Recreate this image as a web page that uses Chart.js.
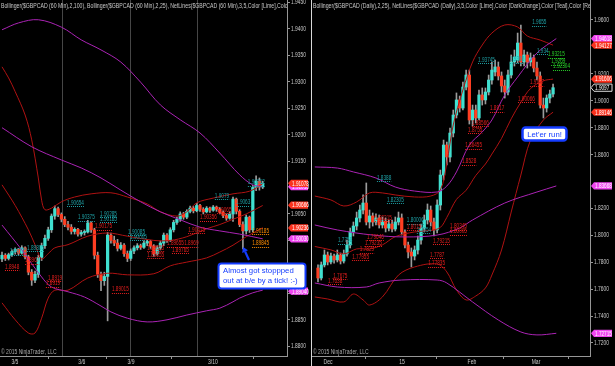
<!DOCTYPE html>
<html>
<head>
<meta charset="utf-8">
<script src="https://cdn.jsdelivr.net/npm/chart.js@4.4.1/dist/chart.umd.min.js"></script>
<style>
  html, body { margin: 0; padding: 0; background: #000; }
  #wrap { position: relative; width: 615px; height: 366px; background: #000; overflow: hidden; }
  #left { position: absolute; left: 0; top: 0; }
  #right { position: absolute; left: 310px; top: 0; }
</style>
</head>
<body>
<div id="wrap">
  <canvas id="left" width="310" height="366"></canvas>
  <canvas id="right" width="305" height="366"></canvas>
</div>
<script>
// ---------- left panel: $GBPCAD 60 min (candle index = hour bar) ----------
const L_OPEN = [1.8965,1.8972,1.8966,1.8973,1.8979,1.8983,1.8976,1.8986,1.8969,1.8940,
  1.8925,1.8936,1.8968,1.8990,1.9004,1.9020,1.9046,1.9060,1.9049,1.9040,
  1.9030,1.9025,1.9017,1.9021,1.9012,1.9015,1.9016,1.9033,1.9020,1.8972,
  1.8936,1.8924,1.8932,1.9010,1.9000,1.8995,1.8985,1.8991,1.8975,1.8966,
  1.8980,1.8986,1.8990,1.8987,1.8995,1.8998,1.8989,1.8975,1.8986,1.8995,
  1.9010,1.9000,1.9020,1.9034,1.9040,1.9050,1.9044,1.9055,1.9061,1.9056,
  1.9066,1.9059,1.9054,1.9061,1.9057,1.9063,1.9059,1.9053,1.9047,1.9042,
  1.9050,1.9078,1.9055,1.9030,1.9018,1.9044,1.9020,1.9100,1.9112,1.9101];
const L_HIGH = [1.8978,1.8975,1.8976,1.8982,1.8986,1.8985,1.8990,1.8988,1.8972,1.8945,
  1.8942,1.8972,1.8995,1.9010,1.9025,1.9050,1.9065,1.9063,1.9052,1.9045,
  1.9036,1.9030,1.9024,1.9023,1.9019,1.9020,1.9038,1.9035,1.9023,1.8978,
  1.8940,1.8940,1.9015,1.9014,1.9008,1.9002,1.8996,1.8994,1.8980,1.8984,
  1.8990,1.8994,1.8993,1.8999,1.9002,1.9000,1.8992,1.8990,1.8999,1.9014,
  1.9013,1.9024,1.9038,1.9044,1.9054,1.9053,1.9058,1.9065,1.9064,1.9070,
  1.9068,1.9062,1.9064,1.9063,1.9066,1.9065,1.9062,1.9056,1.9050,1.9054,
  1.9082,1.9080,1.9058,1.9035,1.9048,1.9046,1.9104,1.9122,1.9118,1.9112];
const L_LOW = [1.8960,1.8962,1.8963,1.8970,1.8974,1.8972,1.8974,1.8965,1.8935,1.8915,
  1.8920,1.8930,1.8962,1.8985,1.9000,1.9015,1.9040,1.9045,1.9035,1.9026,
  1.9020,1.9012,1.9012,1.9008,1.9008,1.9010,1.9014,1.9015,1.8965,1.8930,
  1.8905,1.8915,1.8848,1.8995,1.8990,1.8980,1.8982,1.8970,1.8960,1.8962,
  1.8975,1.8982,1.8983,1.8985,1.8990,1.8985,1.8970,1.8972,1.8982,1.8990,
  1.8996,1.8998,1.9016,1.9030,1.9036,1.9040,1.9041,1.9052,1.9052,1.9054,
  1.9055,1.9050,1.9052,1.9053,1.9055,1.9055,1.9050,1.9043,1.9038,1.9040,
  1.9036,1.9050,1.9026,1.8984,1.9012,1.9015,1.9016,1.9094,1.9095,1.9098];
const L_CLOSE = [1.8972,1.8966,1.8973,1.8979,1.8983,1.8976,1.8986,1.8969,1.8940,1.8925,
  1.8936,1.8968,1.8990,1.9004,1.9020,1.9046,1.9060,1.9049,1.9040,1.9030,
  1.9025,1.9017,1.9021,1.9012,1.9015,1.9016,1.9033,1.9020,1.8972,1.8936,
  1.8924,1.8932,1.9010,1.9000,1.8995,1.8985,1.8991,1.8975,1.8966,1.8980,
  1.8986,1.8990,1.8987,1.8995,1.8998,1.8989,1.8975,1.8986,1.8995,1.9010,
  1.9000,1.9020,1.9034,1.9040,1.9050,1.9044,1.9055,1.9061,1.9056,1.9066,
  1.9059,1.9054,1.9061,1.9057,1.9063,1.9059,1.9053,1.9047,1.9042,1.9050,
  1.9078,1.9055,1.9030,1.9018,1.9044,1.9020,1.9100,1.9112,1.9101,1.9108];

// Bollinger(2,100) - purple, Bollinger(2,25) - dark red ; [bar index, price]
const L_BB100_UP = [[0,1.9398],[5,1.9411],[11,1.9417],[18,1.9403],[24,1.9379],[30,1.9360],[36,1.9337],
  [42,1.9299],[48,1.9256],[54,1.9228],[60,1.9203],[66,1.9165],[72,1.9124],[76,1.9105],[79,1.9102]];
const L_BB100_MID = [[0,1.9213],[9,1.9177],[18,1.9152],[24,1.9137],[30,1.9118],[36,1.9095],[42,1.9073],
  [48,1.9054],[54,1.9039],[60,1.9025],[66,1.9018],[72,1.9012],[79,1.9003]];
const L_BB100_LO = [[0,1.9029],[6,1.8982],[12,1.8931],[15,1.8912],[20,1.8903],[25,1.8893],[30,1.8876],
  [33,1.8865],[38,1.8853],[44,1.8846],[50,1.8850],[56,1.8859],[62,1.8867],[66,1.8872],[70,1.8884],
  [72,1.8891],[76,1.8901],[79,1.8906]];
const L_BB25_UP = [[0,1.9328],[2,1.9307],[4,1.9281],[7,1.9237],[9,1.9190],[11,1.9118],[12,1.9076],
  [13,1.9058],[15,1.9061],[18,1.9073],[22,1.9082],[27,1.9088],[33,1.9090],[38,1.9082],[44,1.9069],
  [48,1.9054],[53,1.9046],[56,1.9054],[59,1.9071],[64,1.9080],[70,1.9088],[75,1.9093],[79,1.9107]];
const L_BB25_MID = [[0,1.9105],[4,1.9066],[8,1.9020],[10,1.8992],[12,1.8965],[14,1.8975],[16,1.8986],
  [20,1.8992],[26,1.9008],[32,1.9014],[38,1.9008],[46,1.9000],[51,1.9000],[56,1.9007],[62,1.9022],
  [66,1.9030],[70,1.9040],[74,1.9050],[79,1.9066]];
const L_BB25_LO = [[0,1.8882],[4,1.8850],[8,1.8825],[10,1.8825],[12,1.8853],[14,1.8891],[16,1.8906],
  [20,1.8906],[26,1.8929],[32,1.8938],[38,1.8935],[46,1.8937],[51,1.8952],[56,1.8959],[62,1.8967],
  [66,1.8978],[70,1.8991],[74,1.9007],[79,1.9024]];

const L_YTICKS = [1.9450,1.9400,1.9350,1.9300,1.9250,1.9200,1.9150,1.9050,1.9000,1.8900,1.8850,1.8800];
const L_XTICK_POS = [3.9, 24.2, 39.1, 63.9];
const L_XTICK_LBL = ['3/5', '3/6', '3/9', '3/10'];
const L_SESSIONS = [18.2, 38.8, 59.1];
// NetLines labels: [text, colour, bar index, price]
const L_NOTES = [
  ['1.90654','t',19.7,1.9071],['1.90375','t',23,1.9044],['1.90285','t',29.7,1.9050],['1.90185','t',29.7,1.9041],
  ['1.90175','r',28.2,1.9026],['1.90085','t',38.2,1.9016],['1.90005','t',38.8,1.9007],['1.89775','t',2.4,1.8980],
  ['1.89805','t',7.6,1.8986],['1.8948','r',0.9,1.8950],['1.8967','r',7,1.8963],['1.8919','r',13.9,1.8929],
  ['1.8919','r',13.3,1.8919],['1.89015','r',33.3,1.8908],['1.9079','t',64.5,1.9084],['1.9063','t',70.9,1.9072],
  ['1.90356','r',60,1.9044],['1.9065','r',65.2,1.9058],['1.90415','r',56.4,1.9020],['1.89655','r',50,1.8995],
  ['1.8969','r',55.2,1.8995],['1.89765','r',51.5,1.8982],['1.89655','r',44,1.8986],['1.89655','r',44,1.8973],
  ['1.90185','o',75.8,1.9018],['1.89845','o',75.8,1.8995],['1.90262','t',74.5,1.9110]];
const L_TAGS = [['1.89040','m'],['1.91016','m'],['1.91078','r'],['1.90666','r'],['1.90030','m'],['1.90236','r']];
const L_TITLE = 'Bollinger($GBPCAD (60 Min),2,100), Bollinger($GBPCAD (60 Min),2,25), NetLines($GBPCAD (60 Min),3,5,Color [Lime],Color [DarkOrange],Color [Teal],Color [Red])';

// ---------- right panel: $GBPCAD daily ----------
const R_OPEN = [1.7757,1.7683,1.7780,1.7854,1.7802,1.7846,1.7817,1.7854,1.7809,1.7861,
  1.7928,1.8025,1.8069,1.8129,1.8188,1.8240,1.8099,1.8144,1.8099,1.8129,
  1.8077,1.8106,1.8054,1.8084,1.8047,1.8099,1.8129,1.8025,1.7928,1.7876,
  1.7846,1.7891,1.7965,1.8054,1.8114,1.8188,1.8099,1.8040,1.8225,1.8448,
  1.8671,1.8582,1.8760,1.8894,1.9006,1.8946,1.9102,1.9191,1.8857,1.8931,
  1.8872,1.9043,1.9006,1.9065,1.9154,1.9214,1.9251,1.9184,1.9110,1.9065,
  1.9191,1.9288,1.9303,1.9429,1.9288,1.9340,1.9288,1.9318,1.9243,1.9184,
  1.8968,1.8946,1.9020,1.9050];
const R_HIGH = [1.7780,1.7802,1.7891,1.7876,1.7869,1.7861,1.7891,1.7869,1.7891,1.7965,
  1.8054,1.8099,1.8173,1.8225,1.8300,1.8389,1.8188,1.8166,1.8159,1.8151,
  1.8136,1.8129,1.8114,1.8114,1.8136,1.8173,1.8159,1.8040,1.7950,1.7906,
  1.7921,1.7995,1.8084,1.8151,1.8233,1.8218,1.8129,1.8263,1.8485,1.8708,
  1.8693,1.8797,1.8931,1.9058,1.9035,1.9139,1.9228,1.9228,1.8968,1.8968,
  1.9080,1.9095,1.9095,1.9191,1.9288,1.9303,1.9288,1.9214,1.9154,1.9228,
  1.9340,1.9377,1.9503,1.9563,1.9377,1.9362,1.9355,1.9340,1.9288,1.9214,
  1.9020,1.9043,1.9080,1.9124];
const R_LOW = [1.7653,1.7668,1.7765,1.7780,1.7787,1.7794,1.7802,1.7787,1.7794,1.7846,
  1.7906,1.7995,1.8040,1.8099,1.8159,1.8077,1.8054,1.8069,1.8077,1.8054,
  1.8054,1.8025,1.8032,1.8025,1.8032,1.8077,1.8002,1.7906,1.7832,1.7765,
  1.7817,1.7861,1.7935,1.8025,1.8084,1.8069,1.7995,1.8017,1.8188,1.8411,
  1.8523,1.8545,1.8731,1.8872,1.8916,1.8931,1.9080,1.8827,1.8812,1.8835,
  1.8857,1.8968,1.8976,1.9043,1.9124,1.9184,1.9154,1.9065,1.9020,1.9043,
  1.9169,1.9258,1.9281,1.9258,1.9258,1.9243,1.9258,1.9214,1.9154,1.8946,
  1.8872,1.8916,1.8983,1.9028];
const R_CLOSE = [1.7683,1.7780,1.7854,1.7802,1.7846,1.7817,1.7854,1.7809,1.7861,1.7928,
  1.8025,1.8069,1.8129,1.8188,1.8240,1.8099,1.8144,1.8099,1.8129,1.8077,
  1.8106,1.8054,1.8084,1.8047,1.8099,1.8129,1.8025,1.7928,1.7876,1.7846,
  1.7891,1.7965,1.8054,1.8114,1.8188,1.8099,1.8040,1.8225,1.8448,1.8671,
  1.8582,1.8760,1.8894,1.9006,1.8946,1.9102,1.9191,1.8857,1.8931,1.8872,
  1.9043,1.9006,1.9065,1.9154,1.9228,1.9251,1.9184,1.9110,1.9065,1.9191,
  1.9288,1.9325,1.9429,1.9288,1.9340,1.9288,1.9318,1.9243,1.9184,1.8968,
  1.8946,1.9020,1.9050,1.9097];

const R_BB25_UP = [[-1,1.8292],[4,1.8263],[8,1.8218],[12,1.8248],[16,1.8315],[20,1.8315],[24,1.8300],
  [30,1.8285],[35,1.8292],[38,1.8337],[40,1.8537],[42,1.8820],[45,1.9080],[48,1.9288],[51,1.9414],
  [54,1.9503],[58,1.9563],[62,1.9548],[65,1.9481],[69,1.9451],[73,1.9413]];
const R_BB25_MID = [[-1,1.7917],[4,1.7892],[8,1.7862],[12,1.7899],[16,1.7899],[20,1.7929],[24,1.7990],
  [30,1.8025],[35,1.8036],[38,1.8059],[40,1.8133],[43,1.8267],[46,1.8335],[49,1.8445],[52,1.8530],
  [54,1.8604],[57,1.8720],[60,1.8866],[63,1.8989],[66,1.9091],[70,1.9148],[73,1.9161]];
const R_BB25_LO = [[-1,1.7542],[3,1.7527],[8,1.7505],[11,1.7564],[14,1.7520],[16,1.7482],[20,1.7542],
  [25,1.7705],[30,1.7765],[37,1.7787],[40,1.7728],[43,1.7594],[46,1.7520],[49,1.7549],[52,1.7609],
  [54,1.7705],[57,1.7891],[60,1.8173],[63,1.8448],[66,1.8708],[70,1.8857],[73,1.8915]];
const R_BB100_UP = [[-1,1.8508],[6,1.8500],[11,1.8471],[18,1.8426],[24,1.8359],[30,1.8329],[37,1.8322],
  [40,1.8366],[43,1.8471],[47,1.8671],[51,1.8768],[54,1.8857],[58,1.9043],[62,1.9176],[68,1.9355],[74,1.9462]];
const R_BB100_MID = [[-1,1.8077],[6,1.8040],[17,1.8002],[27,1.7988],[37,1.8002],[44,1.8054],[48,1.8114],
  [58,1.8240],[68,1.8322],[74,1.8367]];
const R_BB100_LO = [[-1,1.7646],[6,1.7616],[15,1.7616],[19,1.7646],[26,1.7668],[37,1.7668],[40,1.7646],
  [48,1.7505],[56,1.7371],[63,1.7282],[68,1.7260],[74,1.7272]];

const R_YTICKS = [1.9600,1.9200,1.9000,1.8800,1.8600,1.8200,1.8000,1.7800,1.7600,1.7400,1.7200];
const R_XTICK_POS = [3.1, 26.1, 47.8, 67.7];
const R_XTICK_LBL = ['Dec', '15', 'Feb', 'Mar'];
const R_NOTES = [
  ['1.9655','t',66.5,1.9585],['1.93745','t',49.7,1.9303],['1.9365','t',59.6,1.9310],['1.934','t',68,1.9370],
  ['1.93215','g',71.4,1.9347],['1.9269','g',72.4,1.9295],['1.92304','g',73,1.9258],['1.9107','r',65.8,1.9139],
  ['1.90066','r',62.1,1.9013],['1.8917','r',53.4,1.8946],['1.88566','r',47.8,1.8836],['1.8755','r',46.6,1.8783],
  ['1.86455','r',45.7,1.8671],['1.8528','r',44.7,1.8552],['1.8388','t',18.3,1.8426],['1.82305','t',21.4,1.8263],
  ['1.80215','r',17.7,1.8129],['1.80006','t',27.6,1.8110],['1.8015','r',27.6,1.8062],['1.7954','t',30.7,1.8040],
  ['1.79646','r',15.2,1.7988],['1.79235','r',14.6,1.7943],['1.7829','r',13,1.7898],['1.7758','t',6.2,1.7965],
  ['1.7675','r',4.7,1.7698],['1.7638','r',3.1,1.7661],['1.7787','r',34.8,1.7854],['1.77835','r',34.2,1.7794],
  ['1.77955','r',10.6,1.7839],['1.79215','r',35.7,1.7958],['1.80345','r',41,1.8069],['1.80005','r',41,1.8032]];
const R_TAGS = [['1.94618','m'],['1.94127','r'],['1.91606','r'],['1.9097','k'],['1.89146','r'],['1.83668','m'],['1.72715','m']];
const R_TITLE = 'Bollinger($GBPCAD (Daily),2,25), NetLines($GBPCAD (Daily),3,5,Color [Lime],Color [DarkOrange],Color [Teal],Color [Red])';

// ---------- styling ----------
const TEAL = 'rgb(64,224,208)';
const RED = 'rgb(255,62,34)';
const WICK = 'rgb(155,155,155)';
const PURPLE = 'rgb(170,35,180)';
const DARKRED = 'rgb(175,18,18)';
const AXIS = 'rgb(150,150,150)';
const TXT = 'rgb(200,200,200)';
const BLUE = 'rgb(20,60,255)';
const NOTE_COL = { t: 'rgb(30,160,165)', r: 'rgb(230,30,30)', o: 'rgb(255,140,0)', g: 'rgb(40,210,40)' };
const FONT = '"Liberation Sans", Arial, sans-serif';

function txt(ctx, s, x, y, size, color, align, sx) {
  ctx.save();
  ctx.font = size + 'px ' + FONT;
  ctx.fillStyle = color;
  ctx.textBaseline = 'middle';
  ctx.textAlign = align || 'left';
  ctx.translate(x, y);
  ctx.scale(sx, 1);
  ctx.fillText(s, 0, 0);
  const w = ctx.measureText(s).width * sx;
  ctx.restore();
  return w;
}

function candles(O, H, L, C) {
  return [
    { type: 'bar', data: L.map((l, i) => ({ x: i, y: [l, H[i]] })), backgroundColor: WICK,
      barThickness: 1, grouped: false, order: 3 },
    { type: 'bar', data: O.map((o, i) => ({ x: i, y: [o, C[i]] })),
      backgroundColor: O.map((o, i) => C[i] >= o ? TEAL : RED),
      barThickness: 2.6, minBarLength: 1, grouped: false, order: 2 }
  ];
}
function band(pts, color) {
  return { type: 'line', data: pts.map(p => ({ x: p[0], y: p[1] })), borderColor: color,
    borderWidth: 1, pointRadius: 0, tension: 0.35, fill: false, order: 1 };
}

function tag(ctx, x0, x1, yc, s, kind) {
  const h = 3.6;
  ctx.beginPath();
  ctx.moveTo(x0, yc); ctx.lineTo(x0 + 3, yc - h); ctx.lineTo(x1, yc - h);
  ctx.lineTo(x1, yc + h); ctx.lineTo(x0 + 3, yc + h); ctx.closePath();
  ctx.fillStyle = kind === 'r' ? 'rgb(250,50,30)' : kind === 'm' ? 'rgb(240,70,240)' : '#000';
  ctx.fill();
  if (kind === 'k') { ctx.strokeStyle = '#ddd'; ctx.lineWidth = 1; ctx.stroke(); }
  txt(ctx, s, x0 + 4, yc + 0.5, 6.5, '#fff', 'left', 0.72);
}

function callout(ctx, x, y, w, h, lines, lw) {
  ctx.save();
  ctx.beginPath();
  ctx.roundRect(x, y, w, h, 3);
  ctx.fillStyle = '#fff'; ctx.fill();
  ctx.strokeStyle = BLUE; ctx.lineWidth = lw; ctx.stroke();
  ctx.restore();
  lines.forEach(l => txt(ctx, l[0], l[1], l[2], 8, BLUE, l[3], 0.97));
}

function arrow(ctx, x1, y1, x2, y2) {
  const dx = x2 - x1, dy = y2 - y1, len = Math.hypot(dx, dy), ux = dx / len, uy = dy / len;
  const bx = x2 - ux * 5, by = y2 - uy * 5;
  ctx.save();
  ctx.strokeStyle = BLUE; ctx.fillStyle = BLUE; ctx.lineWidth = 2.2;
  ctx.beginPath(); ctx.moveTo(x1, y1); ctx.lineTo(bx, by); ctx.stroke();
  ctx.beginPath(); ctx.moveTo(x2, y2);
  ctx.lineTo(bx - uy * 3.2, by + ux * 3.2); ctx.lineTo(bx + uy * 3.2, by - ux * 3.2);
  ctx.closePath(); ctx.fill();
  ctx.restore();
}

function panelPlugin(p) {
  return {
    id: 'panel',
    beforeDatasetsDraw(chart) {
      const { ctx, chartArea: a, scales: { x } } = chart;
      ctx.save();
      ctx.strokeStyle = 'rgb(70,70,70)'; ctx.lineWidth = 1;
      p.sessions.forEach(s => {
        const px = Math.round(x.getPixelForValue(s)) + 0.5;
        ctx.beginPath(); ctx.moveTo(px, a.top); ctx.lineTo(px, a.bottom); ctx.stroke();
      });
      ctx.restore();
    },
    afterDraw(chart) {
      const { ctx, chartArea: a, scales: { x, y } } = chart;
      // net line labels + title, clipped to the plot
      ctx.save();
      ctx.beginPath(); ctx.rect(a.left, a.top, a.right - a.left, a.bottom - a.top); ctx.clip();
      p.notes.forEach(n => {
        const px = x.getPixelForValue(n[2]), py = y.getPixelForValue(n[3]);
        const w = txt(ctx, n[0], px, py, 6.5, NOTE_COL[n[1]], 'left', 0.72);
        ctx.strokeStyle = NOTE_COL[n[1]]; ctx.lineWidth = 1; ctx.setLineDash([1, 1]);
        ctx.beginPath(); ctx.moveTo(px, Math.round(py + 3.5) + 0.5); ctx.lineTo(px + w, Math.round(py + 3.5) + 0.5); ctx.stroke();
        ctx.setLineDash([]);
      });
      txt(ctx, p.title, a.left + 1, 6, 7, TXT, 'left', 0.74);
      txt(ctx, '\u00a9 2015 NinjaTrader, LLC', a.left + 1, a.bottom - 3.5, 7, 'rgb(170,170,170)', 'left', 0.72);
      ctx.restore();
      // axis labels
      p.yticks.forEach(v => txt(ctx, v.toFixed(4), a.right + 4, y.getPixelForValue(v), 7, TXT, 'left', 0.7));
      p.xpos.forEach((v, i) => txt(ctx, p.xlbl[i], x.getPixelForValue(v), a.bottom + 6.5, 7, TXT, 'center', 0.72));
      // price markers on the axis
      p.tags.forEach(t => tag(ctx, a.right + 1, a.right + p.tagW, y.getPixelForValue(parseFloat(t[0])), t[0], t[1]));
      if (p.border) {
        ctx.save(); ctx.strokeStyle = 'rgb(215,215,215)'; ctx.lineWidth = 1;
        ctx.beginPath(); ctx.moveTo(a.left - 0.5, 0); ctx.lineTo(a.left - 0.5, chart.height); ctx.stroke();
        ctx.restore();
      }
      p.extra(ctx, a);
    }
  };
}

function makeChart(id, p) {
  return new Chart(document.getElementById(id), {
    type: 'bar',
    data: { datasets: [...candles(p.o, p.h, p.l, p.c), ...p.bands] },
    options: {
      responsive: false, animation: false, devicePixelRatio: 1,
      layout: { padding: { left: p.padLeft, right: 0, top: 0, bottom: 0 } },
      plugins: { legend: { display: false }, tooltip: { enabled: false } },
      scales: {
        x: {
          type: 'linear', min: p.xmin, max: p.xmax, offset: false,
          grid: { display: true, drawOnChartArea: false, drawTicks: true, tickLength: 3, color: AXIS },
          border: { display: true, color: AXIS },
          ticks: { display: false },
          afterBuildTicks: ax => { ax.ticks = p.xpos.map(v => ({ value: v })); },
          afterFit: ax => { ax.height = 10; }
        },
        y: {
          type: 'linear', position: 'right', min: p.ymin, max: p.ymax,
          grid: { display: true, drawOnChartArea: false, drawTicks: true, tickLength: 3, color: AXIS },
          border: { display: true, color: AXIS },
          ticks: { display: false },
          afterBuildTicks: ax => { ax.ticks = p.yticks.map(v => ({ value: v })); },
          afterFit: ax => { ax.width = p.axisW; }
        }
      }
    },
    plugins: [panelPlugin(p)]
  });
}

makeChart('left', {
  o: L_OPEN, h: L_HIGH, l: L_LOW, c: L_CLOSE,
  bands: [band(L_BB100_UP, PURPLE), band(L_BB100_MID, PURPLE), band(L_BB100_LO, PURPLE),
          band(L_BB25_UP, DARKRED), band(L_BB25_MID, DARKRED), band(L_BB25_LO, DARKRED)],
  xmin: -0.61, xmax: 86.36, ymin: 1.87816, ymax: 1.94543, padLeft: 0, axisW: 23, tagW: 21,
  yticks: L_YTICKS, xpos: L_XTICK_POS, xlbl: L_XTICK_LBL, sessions: L_SESSIONS,
  notes: L_NOTES, tags: L_TAGS, title: L_TITLE, border: false,
  extra: (ctx) => {
    arrow(ctx, 249, 260, 243, 247);
    callout(ctx, 218.5, 263.5, 87, 25, [['Almost got stoppped', 223, 270.5, 'left'], ['out at b/e by a tick! :-)', 223, 281, 'left']], 2);
  }
});

makeChart('right', {
  o: R_OPEN, h: R_HIGH, l: R_LOW, c: R_CLOSE,
  bands: [band(R_BB100_UP, PURPLE), band(R_BB100_MID, PURPLE), band(R_BB100_LO, PURPLE),
          band(R_BB25_UP, DARKRED), band(R_BB25_MID, DARKRED), band(R_BB25_LO, DARKRED)],
  xmin: -1.863, xmax: 84.47, ymin: 1.710334, ymax: 1.974861, padLeft: 2, axisW: 25, tagW: 22,
  yticks: R_YTICKS, xpos: R_XTICK_POS, xlbl: R_XTICK_LBL, sessions: [],
  notes: R_NOTES, tags: R_TAGS, title: R_TITLE, border: true,
  extra: (ctx) => {
    callout(ctx, 212.5, 127.5, 44, 13, [["Let'er run!", 234.5, 134.5, 'center']], 2.5);
  }
});
</script>
</body>
</html>
